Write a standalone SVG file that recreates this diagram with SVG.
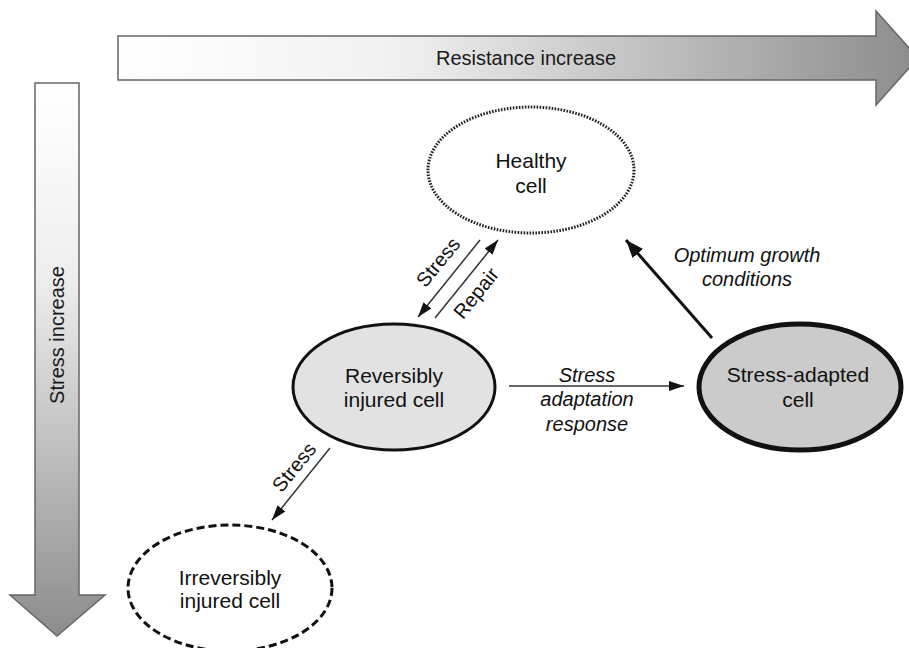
<svg xmlns="http://www.w3.org/2000/svg" width="909" height="648" viewBox="0 0 909 648">
  <defs>
    <linearGradient id="gradH" x1="0" y1="0" x2="1" y2="0">
      <stop offset="0" stop-color="#ffffff"/>
      <stop offset="0.35" stop-color="#f0f0f0"/>
      <stop offset="1" stop-color="#8c8c8c"/>
    </linearGradient>
    <linearGradient id="gradV" x1="0" y1="0" x2="0" y2="1">
      <stop offset="0" stop-color="#ffffff"/>
      <stop offset="0.35" stop-color="#eeeeee"/>
      <stop offset="1" stop-color="#8c8c8c"/>
    </linearGradient>
    <marker id="head" markerUnits="userSpaceOnUse" markerWidth="16" markerHeight="12" refX="15" refY="5" orient="auto">
      <path d="M0,0 L15,5 L0,10 z" fill="#111"/>
    </marker>
    <marker id="headBig" markerUnits="userSpaceOnUse" markerWidth="20" markerHeight="16" refX="18" refY="7" orient="auto">
      <path d="M0,0 L18,7 L0,14 z" fill="#111"/>
    </marker>
  </defs>
  <style>
    .axis { stroke: #666; stroke-width: 1.5; stroke-linejoin: miter; }
    .axisText { font-family: "Liberation Sans", Arial, sans-serif; font-size: 20px; fill: #1a1a1a; }
    .nodeText { font-family: "Liberation Sans", Arial, sans-serif; font-size: 21px; fill: #111; text-anchor: middle; }
    .label { font-family: "Liberation Sans", Arial, sans-serif; font-size: 20px; fill: #111; text-anchor: middle; }
    .italic { font-style: italic; }
    .conn { stroke: #333; stroke-width: 1.5; fill: none; marker-end: url(#head); }
    .connBold { stroke: #111; stroke-width: 3; fill: none; marker-end: url(#headBig); }
  </style>

  <rect width="909" height="648" fill="#ffffff"/>

  <!-- axis arrows -->
  <g id="resistance-axis">
    <path class="axis" fill="url(#gradH)" d="M118,36 L876,36 L876,11 L918,58 L876,105 L876,80 L118,80 Z"/>
    <text class="axisText" x="526" y="65" text-anchor="middle">Resistance increase</text>
  </g>
  <g id="stress-axis">
    <path class="axis" fill="url(#gradV)" d="M35,83 L79,83 L79,595 L105,595 L57,636 L10,595 L35,595 Z"/>
    <text class="axisText" transform="translate(64,335) rotate(-90)" text-anchor="middle">Stress increase</text>
  </g>

  <!-- connectors -->
  <g id="connectors">
    <line class="conn" x1="480" y1="240" x2="418" y2="317"/>
    <line class="conn" x1="435" y1="318" x2="498" y2="240"/>
    <line class="conn" x1="330" y1="448" x2="272" y2="520"/>
    <line class="conn" x1="509" y1="386" x2="684" y2="386"/>
    <line class="connBold" x1="712" y1="338" x2="626" y2="240"/>
    <text class="label" transform="translate(438,262) rotate(-51)" y="7">Stress</text>
    <text class="label" transform="translate(476,293) rotate(-51)" y="7">Repair</text>
    <text class="label" transform="translate(294,467) rotate(-51)" y="7">Stress</text>
    <text class="label italic" x="587" y="382">Stress</text>
    <text class="label italic" x="587" y="406">adaptation</text>
    <text class="label italic" x="587" y="431">response</text>
    <text class="label italic" x="747" y="262">Optimum growth</text>
    <text class="label italic" x="747" y="286">conditions</text>
  </g>

  <!-- nodes -->
  <g id="healthy-cell">
    <ellipse cx="531" cy="170" rx="103" ry="63" fill="#ffffff" stroke="#222" stroke-width="3" stroke-dasharray="1.6 1.4"/>
    <text class="nodeText" x="531" y="168">Healthy</text>
    <text class="nodeText" x="531" y="193">cell</text>
  </g>
  <g id="reversibly-injured-cell">
    <ellipse cx="394" cy="387" rx="101" ry="63" fill="#e2e2e2" stroke="#111" stroke-width="3"/>
    <text class="nodeText" x="394" y="383">Reversibly</text>
    <text class="nodeText" x="394" y="407">injured cell</text>
  </g>
  <g id="stress-adapted-cell">
    <ellipse cx="800" cy="387" rx="101" ry="63" fill="#cbcbcb" stroke="#111" stroke-width="5"/>
    <text class="nodeText" x="798" y="382">Stress-adapted</text>
    <text class="nodeText" x="798" y="407">cell</text>
  </g>
  <g id="irreversibly-injured-cell">
    <ellipse cx="230" cy="588" rx="102" ry="63" fill="#ffffff" stroke="#111" stroke-width="3" stroke-dasharray="8 4"/>
    <text class="nodeText" x="230" y="585">Irreversibly</text>
    <text class="nodeText" x="230" y="608">injured cell</text>
  </g>
</svg>
